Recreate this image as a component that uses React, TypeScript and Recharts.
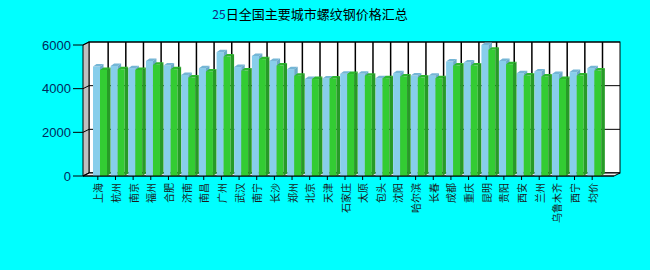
import React from 'react';
import { BarChart, Bar, XAxis, YAxis } from 'recharts';

const cities = [
  '上海', '杭州', '南京', '福州', '合肥', '济南', '南昌', '广州', '武汉', '南宁',
  '长沙', '郑州', '北京', '天津', '石家庄', '太原', '包头', '沈阳', '哈尔滨', '长春',
  '成都', '重庆', '昆明', '贵阳', '西安', '兰州', '乌鲁木齐', '西宁', '均价',
];
const prevPrices = [
  5010, 5040, 4940, 5270, 5060, 4630, 4940, 5670, 4990, 5500,
  5270, 4890, 4440, 4470, 4680, 4680, 4480, 4710, 4600, 4590,
  5240, 5200, 6000, 5270, 4710, 4790, 4670, 4760, 4940,
];
const todayPrices = [
  4860, 4890, 4860, 5090, 4890, 4510, 4790, 5470, 4830, 5350,
  5060, 4590, 4440, 4470, 4670, 4590, 4480, 4560, 4510, 4480,
  5060, 5060, 5780, 5120, 4600, 4560, 4440, 4600, 4830,
];
const yTicks = [0, 2000, 4000, 6000];

const data = cities.map((city, i) => ({ city, prev: prevPrices[i], today: todayPrices[i] }));

// plot geometry (front plane) and 3D depth
const W = 650;
const H = 270;
const PLOT_L = 89;
const PLOT_R = 601;
const PLOT_T = 45;
const PLOT_B = 176;
const FRONT_L = 83;
const FRONT_R = 614;
const DX = 6;
const DY = 3;
const BACK_R = 620;

const make3DBar = (front: string, top: string, side: string) => (props: any) => {
  const { x, y, width, height } = props;
  if (height == null || height <= 0) return <g />;
  const bx = x + 2;
  const dx = 3.5;
  const dy = 2.5;
  return (
    <g>
      <rect x={bx} y={y} width={width} height={height} fill={front} />
      <polygon
        points={`${bx},${y} ${bx + dx},${y - dy} ${bx + width + dx},${y - dy} ${bx + width},${y}`}
        fill={top}
      />
      <polygon
        points={`${bx + width},${y} ${bx + width + dx},${y - dy} ${bx + width + dx},${y + height - dy} ${bx + width},${y + height}`}
        fill={side}
      />
    </g>
  );
};

const BlueBar = make3DBar('#87CEEB', '#74B6D6', '#6AA9C9');
const GreenBar = make3DBar('#33CC33', '#2DB82D', '#279B27');

const XTick = (props: any) => {
  const { x, payload } = props;
  return (
    <g>
      <line x1={x} x2={x} y1={PLOT_B} y2={PLOT_B + 4} stroke="#000" />
      <text
        x={x}
        y={PLOT_B + 7}
        transform={`rotate(-90, ${x}, ${PLOT_B + 7})`}
        textAnchor="end"
        dominantBaseline="central"
        fontSize={10}
        fontFamily="'Noto Sans CJK SC', sans-serif"
        fill="#1a1a1a"
      >
        {payload.value}
      </text>
    </g>
  );
};

const YTick = (props: any) => {
  const { y, payload } = props;
  return (
    <g>
      <line x1={FRONT_L - 10} x2={FRONT_L} y1={y} y2={y} stroke="#000" />
      <line x1={FRONT_L} x2={FRONT_L + DX} y1={y} y2={y - DY} stroke="#000" />
      <text
        x={FRONT_L - 12}
        y={y}
        textAnchor="end"
        dominantBaseline="central"
        fontSize={13}
        fontFamily="'Liberation Sans', Arial, sans-serif"
        fill="#002a5c"
      >
        {payload.value}
      </text>
    </g>
  );
};

const Backdrop = () => {
  const band = (PLOT_R - PLOT_L) / cities.length;
  const yScale = (v: number) => PLOT_B - ((PLOT_B - PLOT_T) * v) / 6000;
  return (
    <svg width={W} height={H} style={{ position: 'absolute', left: 0, top: 0 }}>
      <text
        x={310}
        y={19}
        textAnchor="middle"
        fontSize={13}
        fontFamily="'Noto Sans CJK SC', sans-serif"
        fill="#000"
      >
        <tspan fill="#1a237e" fontSize={12}>25</tspan>日全国主要城市螺纹钢价格汇总
      </text>
      {/* back wall */}
      <rect
        x={FRONT_L + DX}
        y={PLOT_T - DY}
        width={BACK_R - FRONT_L - DX}
        height={PLOT_B - PLOT_T}
        fill="#fff"
        stroke="#000"
      />
      {yTicks.map((t) => (
        <line key={t} x1={FRONT_L + DX} x2={BACK_R} y1={yScale(t) - DY} y2={yScale(t) - DY} stroke="#000" />
      ))}
      {cities.map((c, i) => (
        <line
          key={c}
          x1={PLOT_L + band * (i + 1) + 1.5}
          x2={PLOT_L + band * (i + 1) + 1.5}
          y1={PLOT_T - DY}
          y2={PLOT_B - DY}
          stroke="#000"
          strokeWidth={1.5}
        />
      ))}
      {/* left wall */}
      <polygon
        points={`${FRONT_L},${PLOT_T} ${FRONT_L + DX},${PLOT_T - DY} ${FRONT_L + DX},${PLOT_B - DY} ${FRONT_L},${PLOT_B}`}
        fill="#C0C0C0"
        stroke="#000"
      />
      {/* floor */}
      <polygon
        points={`${FRONT_L},${PLOT_B} ${FRONT_L + DX},${PLOT_B - DY} ${BACK_R},${PLOT_B - DY} ${FRONT_R},${PLOT_B}`}
        fill="#EEEEEE"
        stroke="#000"
      />
    </svg>
  );
};

export default function App() {
  return (
    <div style={{ position: 'absolute', left: 0, top: 0, width: W, height: H, background: '#00FFFF' }}>
      <Backdrop />
      <div style={{ position: 'absolute', left: 0, top: 0 }}>
        <BarChart
          width={W}
          height={H}
          data={data}
          margin={{ top: PLOT_T, right: W - PLOT_R, left: 0, bottom: 4 }}
          barSize={7}
          barGap={0}
        >
          <XAxis
            dataKey="city"
            interval={0}
            height={H - PLOT_B - 4}
            axisLine={false}
            tickLine={false}
            tick={<XTick />}
          />
          <YAxis
            width={PLOT_L}
            domain={[0, 6000]}
            ticks={yTicks}
            axisLine={false}
            tickLine={false}
            tick={<YTick />}
          />
          <Bar dataKey="prev" name="前日" shape={BlueBar} isAnimationActive={false} />
          <Bar dataKey="today" name="今日" shape={GreenBar} isAnimationActive={false} />
        </BarChart>
      </div>
      <svg width={W} height={H} style={{ position: 'absolute', left: 0, top: 0, pointerEvents: 'none' }}>
        <line x1={FRONT_L} x2={FRONT_R} y1={PLOT_B} y2={PLOT_B} stroke="#000" />
      </svg>
    </div>
  );
}
